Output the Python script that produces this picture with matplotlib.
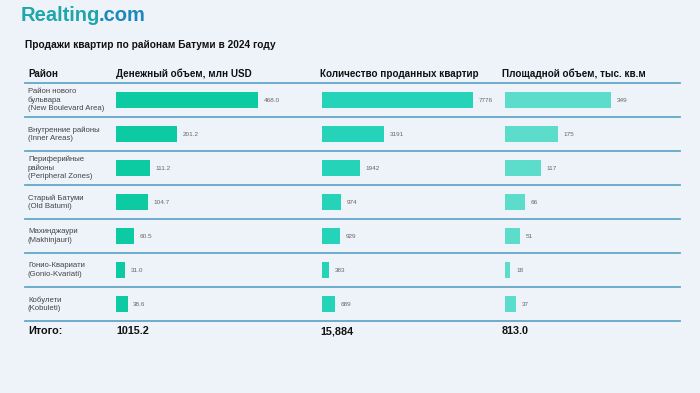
import matplotlib.pyplot as plt
from matplotlib.lines import Line2D

plt.rcParams['font.family'] = ['Liberation Sans', 'DejaVu Sans']

# Data
districts = [
    "Район нового\nбульвара\n(New Boulevard Area)",
    "Внутренние районы\n(Inner Areas)",
    "Периферийные\nрайоны\n(Peripheral Zones)",
    "Старый Батуми\n(Old Batumi)",
    "Махинджаури\n(Makhinjauri)",
    "Гонио-Квариати\n(Gonio-Kvariati)",
    "Кобулети\n(Kobuleti)",
]
money_usd = [468.0, 201.2, 111.2, 104.7, 60.5, 31.0, 38.6]
flats_sold = [7776, 3191, 1942, 974, 929, 383, 689]
area_sqm = [349, 175, 117, 66, 51, 18, 37]

headers = ["Район", "Денежный объем, млн USD",
           "Количество проданных квартир", "Площадной объем, тыс. кв.м"]
totals = ["Итого:", "1015.2", "15,884", "813.0"]

W, H = 700, 393
bg = '#eef3fa'
line_col = '#64a6c9'
bar_cols = ['#0ccaa1', '#25d3b8', '#5cdccb']

fig = plt.figure(figsize=(W / 100, H / 100), dpi=100)
fig.patch.set_facecolor(bg)


def px_rect(x0, y0, x1, y1):
    # pixel box (top-left origin) -> figure fraction
    return [x0 / W, 1 - y1 / H, (x1 - x0) / W, (y1 - y0) / H]


# overlay axes in pixel coords for text and rules
ov = fig.add_axes([0, 0, 1, 1])
ov.set_xlim(0, W)
ov.set_ylim(H, 0)
ov.axis('off')

# logo: two-tone, ".com" placed right after "Realting"
logo1 = ov.text(21, 21, "Realting", fontsize=14.5, fontweight='bold', color='#1fa6ad',
                va='baseline', ha='left')
fig.canvas.draw()
bb = logo1.get_window_extent()
ov.text(bb.x1 - 2, 21, ".com", fontsize=14.5, fontweight='bold', color='#1d88bd',
        va='baseline', ha='left')

ov.text(25, 48, "Продажи квартир по районам Батуми в 2024 году",
        fontsize=7.3, fontweight='bold', color='#111111', va='baseline')

col_x = [28, 116, 320, 502]
for x, h in zip(col_x, headers):
    ov.text(x, 77, h, fontsize=7.1, fontweight='bold', color='#111111', va='baseline')

row_top = 83
row_h = 34
n = len(districts)
for i in range(n + 1):
    y = row_top + i * row_h
    ov.add_line(Line2D([25, 680], [y, y], color=line_col, lw=1.3))

for i, d in enumerate(districts):
    yc = row_top + (i + 0.5) * row_h
    ov.text(col_x[0], yc, d, fontsize=5.6, color='#444444', va='center',
            linespacing=1.25)

for x, t in zip(col_x, totals):
    ov.text(x, 334, t, fontsize=7.8, fontweight='bold', color='#111111', va='baseline')

# bar columns: (pixel left, pixel right, values, xmax, label format)
cols = [
    (116, 300, money_usd, 606, "{:.1f}"),
    (322, 500, flats_sold, 9166, "{:d}"),
    (505, 680, area_sqm, 576, "{:d}"),
]
y_pos = list(range(n))
for k, (x0, x1, vals, xmax, fmt) in enumerate(cols):
    ax = fig.add_axes(px_rect(x0, row_top, x1, row_top + n * row_h))
    ax.barh(y_pos, vals, height=0.47, color=bar_cols[k])
    ax.set_xlim(0, xmax)
    ax.set_ylim(n - 0.5, -0.5)
    ax.axis('off')
    for yy, v in zip(y_pos, vals):
        ax.annotate(fmt.format(v), (v, yy), xytext=(4, 0), textcoords='offset points',
                    fontsize=4.6, color='#666666', va='center', ha='left')

fig.savefig('out.png', dpi=100, facecolor=bg)
